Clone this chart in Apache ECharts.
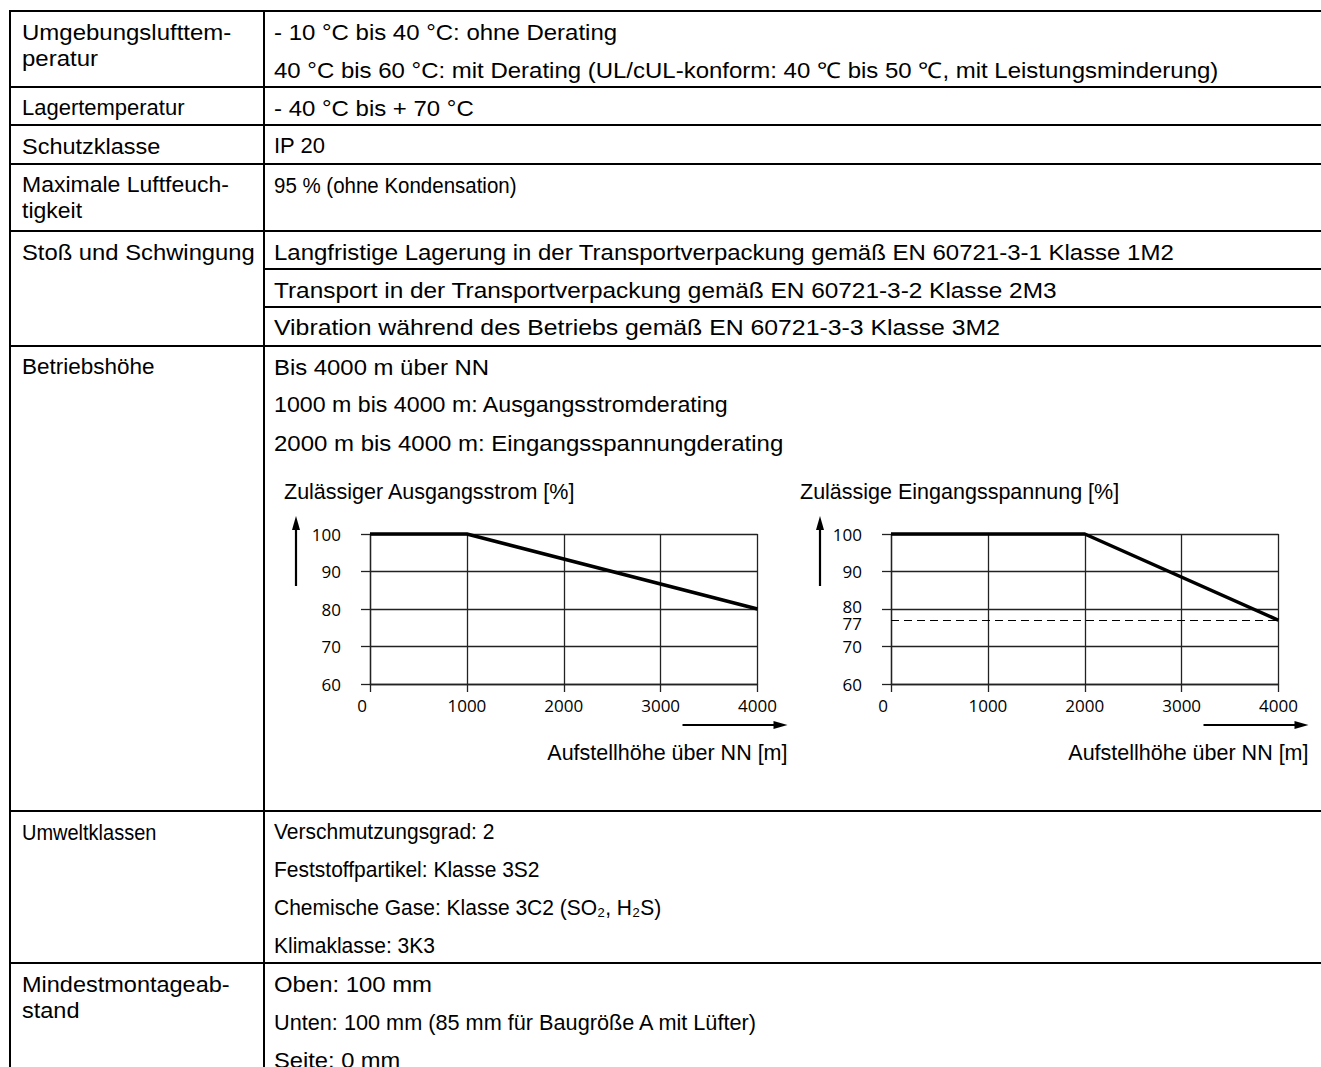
<!DOCTYPE html>
<html><head><meta charset="utf-8">
<script src="https://cdn.jsdelivr.net/npm/echarts@6/dist/echarts.min.js"></script>
<style>html,body{margin:0;padding:0;background:#fff}#c{width:1321px;height:1067px}</style>
</head><body><div id="c"></div>
<script>
// ---------- data ----------
const altitudeTicks = [0, 1000, 2000, 3000, 4000];
const percentTicks = [60, 70, 80, 90, 100];
const currentAltitude = [0, 1000, 4000];
const currentPercent = [100, 100, 80];
const voltageAltitude = [0, 2000, 4000];
const voltagePercent = [100, 100, 77];
const voltageLimit = 77;

const chartTitles = ['Zulässiger Ausgangsstrom [%]', 'Zulässige Eingangsspannung [%]'];
const xAxisTitle = 'Aufstellhöhe über NN [m]';

const rowLabels = [
  ['Umgebungslufttem-', 'peratur'],
  ['Lagertemperatur'],
  ['Schutzklasse'],
  ['Maximale Luftfeuch-', 'tigkeit'],
  ['Stoß und Schwingung'],
  ['Betriebshöhe'],
  ['Umweltklassen'],
  ['Mindestmontageab-', 'stand']
];
const rowValues = [
  ['- 10 °C bis 40 °C: ohne Derating',
   '40 °C bis 60 °C: mit Derating (UL/cUL-konform: 40 ℃ bis 50 ℃, mit Leistungsminderung)'],
  ['- 40 °C bis + 70 °C'],
  ['IP 20'],
  ['95 % (ohne Kondensation)'],
  ['Langfristige Lagerung in der Transportverpackung gemäß EN 60721-3-1 Klasse 1M2',
   'Transport in der Transportverpackung gemäß EN 60721-3-2 Klasse 2M3',
   'Vibration während des Betriebs gemäß EN 60721-3-3 Klasse 3M2'],
  ['Bis 4000 m über NN',
   '1000 m bis 4000 m: Ausgangsstromderating',
   '2000 m bis 4000 m: Eingangsspannungderating'],
  ['Verschmutzungsgrad: 2',
   'Feststoffpartikel: Klasse 3S2',
   'Chemische Gase: Klasse 3C2 (SO₂, H₂S)',
   'Klimaklasse: 3K3'],
  ['Oben: 100 mm',
   'Unten: 100 mm (85 mm für Baugröße A mit Lüfter)',
   'Seite: 0 mm']
];

// ---------- layout (styling, not data) ----------
const rowTops = [11, 87, 125, 164, 231, 346, 811, 963];
// horizontal run-width of each text line, expressed as an equivalent font size
const labelWidths = [[24, 24], [22], [23.5], [23, 23], [23.8], [22.5], [20], [23.5, 23.5]];
const valueWidths = [[24, 24], [24], [22], [20.5], [24, 24.4, 24.8], [23.9, 23.2, 24], [21, 21, 21, 21], [23.9, 21.7, 23.7]];
const baseFs = 21.8;
const subDividedRow = 4;
const tableLeft = 10, colDiv = 264, tableRight = 1321;
const textFont = 'Liberation Sans, Arial, sans-serif';
const tickFont = 'Open Sans, sans-serif';
const tickFs = 17;
const chartFs = 21.5;

const graphics = [];
function hline(y, x1, x2, w) {
  graphics.push({type: 'line', silent: true, shape: {x1: x1, y1: y, x2: x2, y2: y},
    style: {stroke: '#000', lineWidth: w || 2}});
}
function vline(x, y1, y2, w) {
  graphics.push({type: 'line', silent: true, shape: {x1: x, y1: y1, x2: x, y2: y2},
    style: {stroke: '#000', lineWidth: w || 2}});
}
function txt(s, x, y, size, align, widthAs) {
  graphics.push({type: 'text', silent: true, x: x, y: y,
    scaleX: widthAs ? widthAs / size : 1,
    style: {text: s, fill: '#000', fontFamily: textFont, fontSize: size,
      align: align || 'left', verticalAlign: 'middle'}});
}

// table frame
hline(rowTops[0], tableLeft - 1, tableRight);
vline(tableLeft, rowTops[0], 1067);
vline(colDiv, rowTops[0], 1067);
rowTops.slice(1).forEach(y => hline(y, tableLeft - 1, tableRight));

rowLabels.forEach((lines, i) => {
  const top = rowTops[i];
  lines.forEach((l, j) => txt(l, 22, top + 21 + j * 26, baseFs, 'left', labelWidths[i][j]));
  rowValues[i].forEach((v, j) => {
    txt(v, 274, top + 21 + j * 38, baseFs, 'left', valueWidths[i][j]);
    if (i === subDividedRow && j > 0) hline(top + j * 38, colDiv, tableRight);
  });
});

// chart decorations (titles, arrows)
const gridTop = 534, gridH = 150, gridW = 387.5;
const gridLefts = [370, 891];
const titleLefts = [284, 800];
const upArrowX = [296, 820];
gridLefts.forEach((gl, k) => {
  txt(chartTitles[k], titleLefts[k], 492, chartFs);
  // up arrow
  const ax = upArrowX[k];
  vline(ax, 586, 526, 2.2);
  graphics.push({type: 'polygon', silent: true, shape: {points: [[ax, 516], [ax - 4, 530], [ax + 4, 530]]}, style: {fill: '#000'}});
  // right arrow
  const ay = 725, xr = gl + gridW + 30;
  hline(ay, xr - 105, xr - 12, 2.2);
  graphics.push({type: 'polygon', silent: true, shape: {points: [[xr, ay], [xr - 14, ay - 4], [xr - 14, ay + 4]]}, style: {fill: '#000'}});
  txt(xAxisTitle, xr, 753, chartFs, 'right');
});

const gridLine = {color: '#222', width: 1.3};
function xAxisDef(gi) {
  return {type: 'value', gridIndex: gi, min: 0, max: 4000, interval: 1000,
    axisLine: {show: true, lineStyle: gridLine},
    axisTick: {show: true, length: 8, lineStyle: gridLine},
    splitLine: {show: true, lineStyle: gridLine},
    axisLabel: {margin: 13, color: '#000', fontFamily: tickFont, fontSize: tickFs,
      formatter: v => v === altitudeTicks[0] ? '{z|' + v + '}' : String(v),
      rich: {z: {padding: [0, 16, 0, 0], color: '#000', fontFamily: tickFont, fontSize: tickFs}}}};
}
function yAxisDef(gi, shift80) {
  return {type: 'value', gridIndex: gi, min: 60, max: 100, interval: 10,
    axisLine: {show: true, lineStyle: gridLine},
    axisTick: {show: true, length: 9, lineStyle: gridLine},
    splitLine: {show: true, lineStyle: gridLine},
    axisLabel: {margin: 29, color: '#000', fontFamily: tickFont, fontSize: tickFs,
      formatter: v => (shift80 && v === 80) ? '{u|' + v + '}' : String(v),
      rich: {u: {padding: [0, 0, 6, 0], color: '#000', fontFamily: tickFont, fontSize: tickFs}}}};
}

const chart = echarts.init(document.getElementById('c'), null, {renderer: 'svg', width: 1321, height: 1067});
chart.setOption({
  animation: false,
  backgroundColor: '#fff',
  grid: gridLefts.map(l => ({left: l, top: gridTop, width: gridW, height: gridH, containLabel: false})),
  xAxis: [xAxisDef(0), xAxisDef(1)],
  yAxis: [yAxisDef(0, false), yAxisDef(1, true)],
  series: [
    {type: 'line', xAxisIndex: 0, yAxisIndex: 0, symbol: 'none', clip: false,
      lineStyle: {color: '#000', width: 3.5},
      data: currentAltitude.map((a, i) => [a, currentPercent[i]])},
    {type: 'line', xAxisIndex: 1, yAxisIndex: 1, symbol: 'none', clip: false,
      lineStyle: {color: '#000', width: 3.5},
      data: voltageAltitude.map((a, i) => [a, voltagePercent[i]]),
      markLine: {silent: true, symbol: ['none', 'none'], animation: false,
        lineStyle: {type: [8, 5], color: '#000', width: 1},
        label: {show: true, position: 'start', distance: 29, formatter: String(voltageLimit),
          offset: [0, 3], color: '#000', fontFamily: tickFont, fontSize: tickFs},
        data: [{yAxis: voltageLimit}]}}
  ],
  graphic: graphics
});
</script>
</body></html>
